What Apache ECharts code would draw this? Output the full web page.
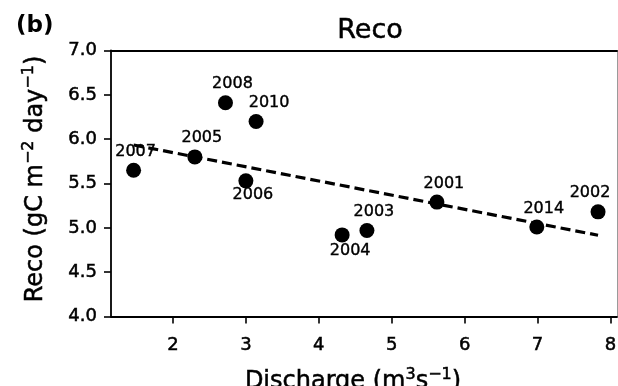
<!DOCTYPE html>
<html>
<head>
<meta charset="utf-8">
<script src="https://cdn.jsdelivr.net/npm/echarts@6/dist/echarts.min.js"></script>
<style>
  html, body { margin: 0; padding: 0; background: #fff; }
  #chart { width: 618px; height: 386px; }
</style>
</head>
<body>
<div id="chart"></div>
<script>
// Annual mean discharge vs. ecosystem respiration (Reco)
const years     = ['2001', '2002', '2003', '2004', '2005', '2006', '2007', '2008', '2010', '2014'];
const discharge = [5.62, 7.83, 4.66, 4.32, 2.30, 3.00, 1.46, 2.72, 3.14, 6.99];
const reco      = [5.29, 5.18, 4.97, 4.92, 5.80, 5.53, 5.65, 6.41, 6.20, 5.01];
const xTickValues = [2, 3, 4, 5, 6, 7, 8];

// where each year label sits relative to its dot (px)
const labelShift = {
  '2001': [7, -18], '2002': [-8, -19], '2003': [7, -19], '2004': [8, 16],
  '2005': [7, -19], '2006': [7, 14],  '2007': [2, -18], '2008': [7, -19],
  '2010': [13, -19], '2014': [7, -18]
};

// ordinary least-squares trend line across the observed discharge range
function linearFit(xs, ys) {
  const n = xs.length;
  const mx = xs.reduce((a, b) => a + b, 0) / n;
  const my = ys.reduce((a, b) => a + b, 0) / n;
  let sxy = 0, sxx = 0;
  for (let i = 0; i < n; i++) {
    sxy += (xs[i] - mx) * (ys[i] - my);
    sxx += (xs[i] - mx) * (xs[i] - mx);
  }
  const slope = sxy / sxx;
  return x => my + slope * (x - mx);
}
const fit = linearFit(discharge, reco);
const xLo = Math.min(...discharge), xHi = Math.max(...discharge);
const trend = [[xLo, fit(xLo)], [xHi, fit(xHi)]];

const FONT = 'DejaVu Sans';
// a hairline stroke gives the text the same heavy look as the figure
const INK = { color: '#000', textBorderColor: '#000', textBorderWidth: 0.5 };
const chart = echarts.init(document.getElementById('chart'), null, { renderer: 'canvas' });

const supRich = {
  t:   Object.assign({ fontSize: 24, lineHeight: 30, fontFamily: FONT }, INK),
  sup: Object.assign({ fontSize: 16, lineHeight: 16, fontFamily: FONT, verticalAlign: 'top' }, INK)
};

chart.setOption({
  animation: false,
  backgroundColor: '#fff',
  graphic: [
    { type: 'text', left: 16, top: 15,
      style: { text: '(b)', font: 'bold 23px "DejaVu Sans"', fill: '#000' } },
    { type: 'text', x: 370, y: 31,
      style: { text: 'Reco', font: '27px "DejaVu Sans"', fill: '#000',
               stroke: '#000', lineWidth: 0.5,
               textAlign: 'center', textVerticalAlign: 'middle' } }
  ],
  grid: { left: 111, top: 50.5, width: 506, height: 266, outerBoundsMode: 'none', containLabel: false },
  xAxis: [
    {
      type: 'value', min: 1.15, max: 8.09, position: 'bottom',
      axisLine: { show: true, lineStyle: { color: '#000', width: 1.8 } },
      axisTick: { show: true, length: 7, lineStyle: { color: '#000', width: 1.6 }, customValues: xTickValues },
      axisLabel: Object.assign({ fontSize: 18, fontFamily: FONT, margin: 20, customValues: xTickValues }, INK),
      splitLine: { show: false },
      name: '{t|Discharge (m}{sup|3}{t|s}{sup|\u22121}{t|)}',
      nameLocation: 'middle', nameGap: 50,
      nameTextStyle: { padding: [0, 22, 0, 0], rich: supRich }
    },
    {
      type: 'value', min: 1.15, max: 8.09, position: 'top',
      axisLine: { show: true, lineStyle: { color: '#000', width: 1.8 } },
      axisTick: { show: false }, axisLabel: { show: false }, splitLine: { show: false }
    }
  ],
  yAxis: [
    {
      type: 'value', min: 4, max: 7, interval: 0.5, position: 'left',
      axisLine: { show: true, lineStyle: { color: '#000', width: 1.8 } },
      axisTick: { show: true, length: 7, lineStyle: { color: '#000', width: 1.6 } },
      axisLabel: Object.assign({ fontSize: 18, fontFamily: FONT, margin: 14,
                   formatter: v => v.toFixed(1) }, INK),
      splitLine: { show: false },
      name: '{t|Reco (gC m}{sup|\u22122}{t| day}{sup|\u22121}{t|)}',
      nameLocation: 'middle', nameRotate: 90, nameGap: 60,
      nameTextStyle: { padding: [0, 0, 0, 9], rich: supRich }
    },
    {
      type: 'value', min: 4, max: 7, position: 'right',
      axisLine: { show: true, lineStyle: { color: '#9a9a9a', width: 1 } },
      axisTick: { show: false }, axisLabel: { show: false }, splitLine: { show: false }
    }
  ],
  series: [
    {
      type: 'scatter',
      symbol: 'circle', symbolSize: 15,
      itemStyle: { color: '#000', opacity: 1 },
      data: years.map((y, i) => ({
        name: y,
        value: [discharge[i], reco[i]],
        label: { offset: labelShift[y] }
      })),
      label: {
        show: true, position: 'inside', formatter: '{b}',
        fontSize: 16, fontFamily: FONT,
        color: '#000', textBorderColor: '#000', textBorderWidth: 0.4
      },
      z: 2
    },
    {
      type: 'line',
      data: trend,
      symbol: 'none',
      lineStyle: { color: '#000', width: 3.2, type: [10, 5] },
      z: 3,
      silent: true
    }
  ]
});
</script>
</body>
</html>
